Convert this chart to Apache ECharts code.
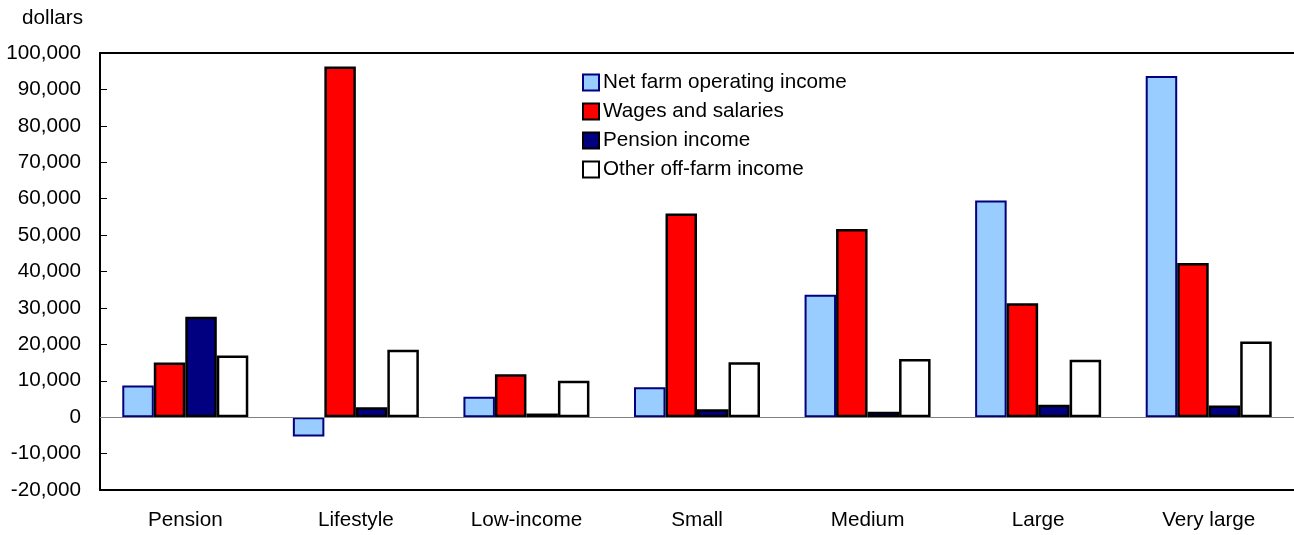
<!DOCTYPE html>
<html>
<head>
<meta charset="utf-8">
<script src="https://cdn.jsdelivr.net/npm/echarts@6/dist/echarts.min.js"></script>
<style>
  html, body {margin: 0; padding: 0; background: #fff;}
  #chart {width: 1294px; height: 535px;}
</style>
</head>
<body>
<div id="chart"></div>
<script>
var categories = ['Pension', 'Lifestyle', 'Low-income', 'Small', 'Medium', 'Large', 'Very large'];
var seriesNames = ['Net farm operating income', 'Wages and salaries', 'Pension income', 'Other off-farm income'];

var netFarm = [8700, -5300, 5600, 8200, 33600, 59500, 93700];
var wages = [15000, 96300, 11800, 55900, 51700, 31300, 42300];
var pension = [27600, 2700, 1000, 2200, 1500, 3400, 3200];
var otherOffFarm = [16900, 18500, 10000, 15100, 16000, 15800, 20800];

var font = '"Liberation Sans", Arial, sans-serif';
var fs = 20.7;

var chart = echarts.init(document.getElementById('chart'));

function barSeries(name, data, fill, border, width) {
  return {
    name: name,
    type: 'bar',
    data: data,
    barWidth: 31.5,
    barGap: '0%',
    itemStyle: {color: fill, borderColor: border, borderWidth: width},
    emphasis: {disabled: true}
  };
}

var series = [
  barSeries(seriesNames[0], netFarm, '#99ccff', '#000080', 2),
  barSeries(seriesNames[1], wages, '#ff0000', '#000000', 2.5),
  barSeries(seriesNames[2], pension, '#000080', '#000000', 2.5),
  barSeries(seriesNames[3], otherOffFarm, '#ffffff', '#000000', 2.5)
];

// grey zero line
series[0].markLine = {
  silent: true,
  symbol: 'none',
  label: {show: false},
  lineStyle: {color: '#808080', width: 1, type: 'solid'},
  data: [{yAxis: 0}]
};

chart.setOption({
  animation: false,
  textStyle: {fontFamily: font},
  grid: {left: 100, top: 53, width: 1197, height: 437, containLabel: false},
  legend: {
    orient: 'vertical',
    left: 582,
    top: 72,
    padding: 0,
    itemWidth: 16,
    itemHeight: 16,
    itemGap: 8,
    icon: 'rect',
    data: seriesNames,
    textStyle: {fontSize: fs, color: '#000', fontFamily: font, padding: [0, 0, 0, -1]}
  },
  xAxis: [
    {
      type: 'category',
      data: categories,
      position: 'bottom',
      axisLine: {onZero: false, lineStyle: {color: '#000', width: 2}},
      axisTick: {show: false},
      axisLabel: {fontSize: fs, color: '#000', margin: 20, fontFamily: font}
    },
    {
      type: 'category',
      data: categories,
      position: 'top',
      axisLine: {onZero: false, lineStyle: {color: '#000', width: 2}},
      axisTick: {show: false},
      axisLabel: {show: false}
    }
  ],
  yAxis: {
    type: 'value',
    min: -20000,
    max: 100000,
    interval: 10000,
    name: 'dollars',
    nameLocation: 'end',
    nameGap: 35,
    nameTextStyle: {fontSize: fs, color: '#000', align: 'right', verticalAlign: 'middle', padding: [0, 17, 0, 0], fontFamily: font},
    axisLine: {show: true, lineStyle: {color: '#000', width: 2}},
    axisTick: {show: true, inside: true, length: 7, lineStyle: {color: '#000', width: 1}},
    splitLine: {show: false},
    axisLabel: {
      fontSize: fs,
      color: '#000',
      margin: 19,
      fontFamily: font,
      formatter: function (v) { return v.toLocaleString('en-US'); }
    }
  },
  series: series
});
</script>
</body>
</html>
